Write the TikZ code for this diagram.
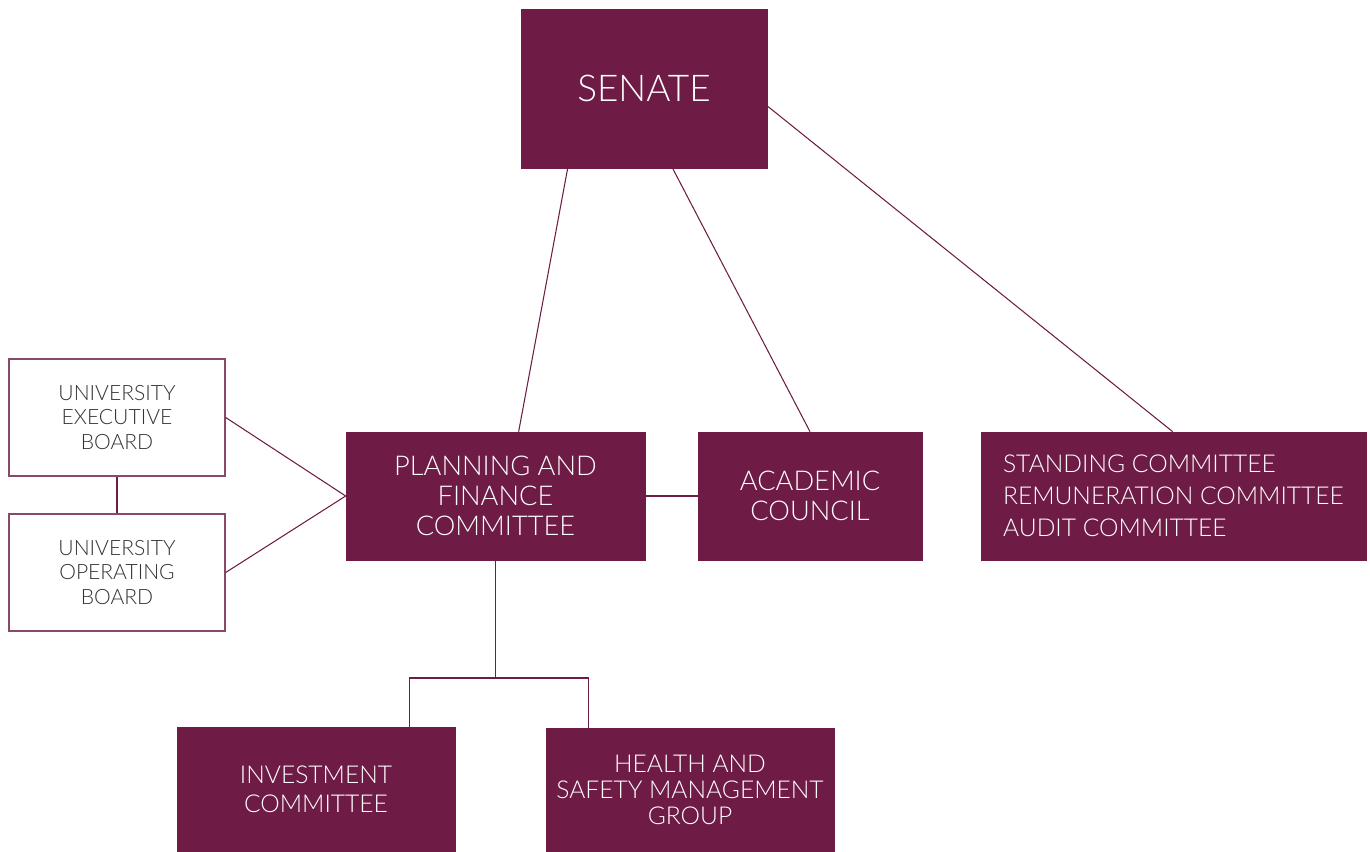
\documentclass[tikz,border=0pt]{standalone}
\usepackage{fontspec}
\setmainfont{Lato Light}
\definecolor{maroon}{HTML}{6E1C45}
\begin{document}
\begin{tikzpicture}[x=0.02cm,y=-0.02cm]
	\tikzstyle{body}=[rectangle,draw=maroon,fill=maroon,text=white,inner sep=0pt,align=center]
	\tikzstyle{board}=[rectangle,draw=maroon!80,line width=0.8pt,fill=white,text=black!80,inner sep=0pt,align=center,font=\fontsize{12}{14.2}\selectfont]
	\tikzstyle{mid}=[font=\fontsize{15.5}{17}\selectfont]
	\tikzstyle{edge}=[draw=maroon,line width=0.6pt]
	\useasboundingbox (0,0) rectangle (1370,852);

	\node [body,minimum width=4.92cm,minimum height=3.18cm,font=\fontsize{21}{25}\selectfont] (senate) at (644,88.5) {SENATE};

	\node [board,minimum width=4.32cm,minimum height=2.34cm] (exec) at (117,417.5) {UNIVERSITY\\EXECUTIVE\\BOARD};
	\node [board,minimum width=4.32cm,minimum height=2.34cm] (oper) at (117,572.5) {UNIVERSITY\\OPERATING\\BOARD};

	\node [body,mid,minimum width=5.98cm,minimum height=2.56cm] (pfc) at (495.5,496) {PLANNING AND\\FINANCE\\COMMITTEE};
	\node [body,mid,minimum width=4.48cm,minimum height=2.56cm] (acad) at (810,496) {ACADEMIC\\COUNCIL};
	\node [body,minimum width=7.7cm,minimum height=2.56cm,align=left,font=\fontsize{14}{18.2}\selectfont] (stand) at (1173.5,496) {STANDING COMMITTEE\\REMUNERATION COMMITTEE\\AUDIT COMMITTEE};

	\node [body,minimum width=5.56cm,minimum height=2.5cm,font=\fontsize{14}{16.5}\selectfont] (invest) at (316,789.5) {INVESTMENT\\COMMITTEE};
	\node [body,minimum width=5.76cm,minimum height=2.48cm,font=\fontsize{14}{14.8}\selectfont] (health) at (690,790) {HEALTH AND\\SAFETY MANAGEMENT\\GROUP};

	\coordinate (fork) at (495.5,678);

	% senate down to its committees
	\path[edge] ([xshift=0.94cm]senate.south west) edge ([xshift=3.46cm]pfc.north west);
	\path[edge] ([xshift=3.04cm]senate.south west) edge (acad.north);
	\path[edge] ([yshift=-0.35cm]senate.east) edge ([xshift=3.84cm]stand.north west);

	% boards feeding planning and finance
	\path[edge] (exec.east) edge (pfc.west);
	\path[edge] (oper.east) edge (pfc.west);
	\path[edge] (exec.south) edge (oper.north);
	\path[edge] (pfc.east) edge (acad.west);

	\draw[edge] (pfc.south) -- (fork);
	\draw[edge] (fork) -| ([xshift=4.66cm]invest.north west);
	\draw[edge] (fork) -| ([xshift=0.86cm]health.north west);
\end{tikzpicture}
\end{document}
